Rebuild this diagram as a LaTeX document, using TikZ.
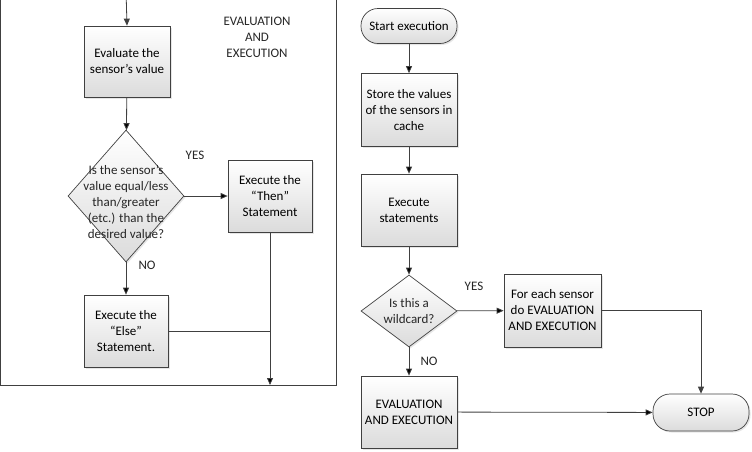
\documentclass[tikz,border=0pt]{standalone}
\usepackage{fontspec}
\setmainfont{Carlito}
\usetikzlibrary{shapes,arrows.meta,shadows}

\definecolor{edgegray}{HTML}{404040}
\tikzset{
  box/.style={shape=rectangle,draw=edgegray,line width=0.7pt,top color=white,bottom color=gray!28,
    drop shadow={opacity=0.2,shadow xshift=1.5pt,shadow yshift=-1.5pt},align=center,inner sep=0pt},
  decision/.style={shape=diamond,draw=edgegray,line width=0.7pt,top color=white,bottom color=gray!28,
    drop shadow={opacity=0.2,shadow xshift=1.5pt,shadow yshift=-1.5pt},inner sep=0pt},
  term/.style={box,rounded corners=17pt},
  flow/.style={draw=edgegray,line width=0.8pt,-{Triangle[length=7pt,width=6pt]}},
  plain/.style={draw=edgegray,line width=0.8pt},
  txt/.style={align=center,inner sep=0pt,text=black!85},
  every node/.style={font=\fontsize{13}{16}\selectfont}
}

\begin{document}
\begin{tikzpicture}[x=1pt,y=-1pt]
\useasboundingbox (0,0) rectangle (752,451);
\draw [draw=edgegray,line width=0.8pt] (0.5,-5) rectangle (336,385);

\node[box,minimum width=86pt,minimum height=71pt] (0) at (127,61.5) {Evaluate the\\sensor’s value};
\node[decision,minimum width=116pt,minimum height=132pt] (1) at (126,196) {};
\node[txt] (1t) at (126,202) {Is the sensor’s\\value equal/less\\than/greater\\(etc.) than the\\desired value?};
\node[box,minimum width=84pt,minimum height=72pt] (2) at (270,196) {Execute the\\“Then”\\Statement};
\node[box,minimum width=84pt,minimum height=72pt] (3) at (126,331) {Execute the\\“Else”\\Statement.};
\node[txt] (l0) at (257,37) {EVALUATION\\AND\\EXECUTION};
\node[txt] (l1) at (195,155) {YES};
\node[txt] (l2) at (147,265) {NO};
\coordinate (t) at (126,-10);
\coordinate (b) at (270,385);

\node[term,minimum width=96pt,minimum height=35pt] (4) at (409,26) {Start execution};
\node[box,minimum width=96pt,minimum height=73pt] (5) at (409,110) {Store the values\\of the sensors in\\cache};
\node[box,minimum width=96pt,minimum height=72pt] (6) at (409,210) {Execute\\statements};
\node[decision,minimum width=96pt,minimum height=72pt] (7) at (409,311) {};
\node[txt] (7t) at (409,311) {Is this a\\wildcard?};
\node[box,minimum width=97pt,minimum height=73pt] (8) at (552.5,310.5) {For each sensor\\do EVALUATION\\AND EXECUTION};
\node[box,minimum width=96pt,minimum height=72pt] (9) at (409,412) {EVALUATION\\AND EXECUTION};
\node[term,minimum width=96pt,minimum height=37pt] (10) at (701,412.5) {STOP};
\node[txt] (l3) at (474,286) {YES};
\node[txt] (l4) at (429,361) {NO};

\draw [flow] (t) -- (0.north);
\path [flow] (0) edge (1);
\path [flow] (1) edge (2);
\path [flow] (1) edge (3);
\path [flow] (2) edge (b);
\path [plain] (3) edge (3 -| 2);

\path [flow] (4) edge (5);
\path [flow] (5) edge (6);
\path [flow] (6) edge (7);
\path [flow] (7) edge (8);
\path [flow] (7) edge (9);
\path [flow] (9) edge (10);
\draw [flow] (8) -| (10);
\end{tikzpicture}
\end{document}
